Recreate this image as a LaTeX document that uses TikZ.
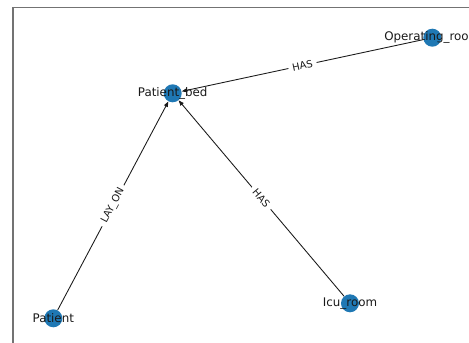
\documentclass[tikz,border=0pt]{standalone}
\usepackage{fontspec}
\setmainfont{DejaVu Sans}
\usetikzlibrary{arrows.meta}
\definecolor{nodeblue}{HTML}{1F78B4}
\begin{document}
\begin{tikzpicture}[x=0.75pt,y=-0.75pt,
  vertex/.style={circle, fill=nodeblue, draw=none, minimum size=13.5pt, inner sep=0pt},
  vlabel/.style={font=\fontsize{8.9}{10}\selectfont, text=black!90, inner sep=0pt},
  elabel/.style={font=\fontsize{7.5}{9}\selectfont, text=black!90, fill=white, rounded corners=2pt, inner xsep=3pt, inner ysep=1.5pt, sloped},
  edge/.style={draw=black!90, line width=0.65pt, -{Triangle[length=4pt,width=3pt]}},
  frame/.style={draw=black!55, line width=0.8pt}]
\useasboundingbox (0,0) rectangle (469,343);
\clip (0,0) rectangle (469,343);
% axes frame
\draw[frame] (13,7.5) rectangle (520,390);
% graph vertices
\node[vertex] (bed) at (172.7,93.3) {};
\node[vertex] (op) at (432.3,37.7) {};
\node[vertex] (pat) at (53.3,318.3) {};
\node[vertex] (icu) at (350,303.3) {};
% directed relations
\draw[edge] (op) -- node[elabel, midway] {HAS} (bed);
\draw[edge] (pat) -- node[elabel, midway] {LAY\_ON} (bed);
\draw[edge] (icu) -- node[elabel, midway] {HAS} (bed);
% vertex names on top
\node[vlabel] (bedname) at (bed) {Patient\_bed};
\node[vlabel] (opname) at (op) {Operating\_room};
\node[vlabel] (patname) at (pat) {Patient};
\node[vlabel] (icuname) at (icu) {Icu\_room};
\end{tikzpicture}
\end{document}
